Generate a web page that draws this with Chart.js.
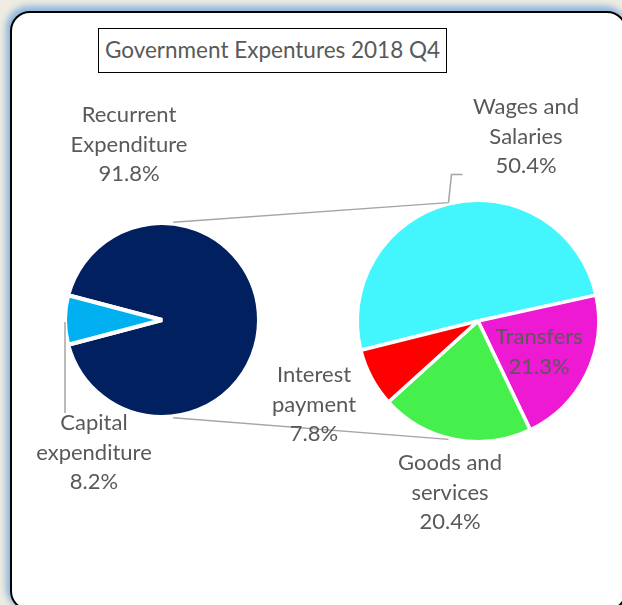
<!DOCTYPE html>
<html>
<head>
<meta charset="utf-8">
<script src="https://cdn.jsdelivr.net/npm/chart.js@4.4.1/dist/chart.umd.min.js"></script>
<style>
  html, body { margin: 0; padding: 0; width: 622px; height: 605px; overflow: hidden; background: #eeece1; }
  #frame {
    position: absolute; left: 10px; top: 11px; width: 617px; height: 600px;
    box-sizing: border-box; border: 2px solid #000; border-radius: 20px; background: #fff;
    box-shadow: -2px -3px 6px 2px rgba(125, 170, 220, 0.85);
  }
  #title {
    position: absolute; left: 98px; top: 28px; width: 349px; height: 45px; box-sizing: border-box;
    border: 1.5px solid #000; background: #fff; color: #595959; white-space: nowrap;
    font: 22.5px Lato, "Open Sans", sans-serif; text-align: center; line-height: 42px;
  }
  canvas { position: absolute; left: 0; top: 0; }
</style>
</head>
<body>
<div id="frame"></div>
<div id="title">Government Expentures 2018 Q4</div>
<canvas id="main" width="622" height="605"></canvas>
<canvas id="detail" width="622" height="605"></canvas>
<script>
// Main split: recurrent vs capital spending (percent of total)
const mainCategories = [['Recurrent', 'Expenditure'], ['Capital', 'expenditure']];
const mainValues = [91.8, 8.2];
const mainColors = ['#002060', '#00b0f0'];

// Breakdown of recurrent expenditure (percent)
const detailCategories = [['Wages and', 'Salaries'], ['Transfers'], ['Goods and', 'services'], ['Interest', 'payment']];
const detailValues = [50.4, 21.3, 20.4, 7.8];
const detailColors = ['#43f6fd', '#ee1ad3', '#46f04c', '#ff0000'];

const TEXT = '#595959';
const LINE = '#a5a5a5';
const FONT = '22px Lato, "Open Sans", sans-serif';
const LINE_GAP = 29.5;

// Where each label block's first line is centred
const mainLabelAt = [{ x: 129, y: 115 }, { x: 94, y: 423 }];
const detailLabelAt = [{ x: 526, y: 107 }, { x: 539, y: 337 }, { x: 450, y: 463 }, { x: 314, y: 375 }];

function sliceLabels(names, values, anchors) {
  return {
    id: 'sliceLabels',
    afterDatasetsDraw(chart) {
      const ctx = chart.ctx;
      ctx.save();
      ctx.font = FONT;
      ctx.fillStyle = TEXT;
      ctx.textAlign = 'center';
      ctx.textBaseline = 'middle';
      names.forEach((lines, i) => {
        const rows = [...lines, values[i].toFixed(1) + '%'];
        rows.forEach((t, j) => ctx.fillText(t, anchors[i].x, anchors[i].y + j * LINE_GAP));
      });
      ctx.restore();
    }
  };
}

const quiet = { legend: { display: false }, tooltip: { enabled: false } };

const mainChart = new Chart(document.getElementById('main'), {
  type: 'pie',
  data: {
    labels: mainCategories.map(l => l.join(' ')),
    datasets: [{ data: mainValues, backgroundColor: mainColors, borderColor: '#ffffff', borderWidth: 4 }]
  },
  options: {
    responsive: false, animation: false,
    // capital slice centred on the left side of the pie
    rotation: 270 + mainValues[1] * 1.8,
    radius: 97,
    layout: { padding: { left: 62, top: 220, right: 360, bottom: 185 } },
    plugins: quiet
  },
  plugins: [sliceLabels(mainCategories, mainValues, mainLabelAt)]
});

// Connector lines between the two pies plus the label leaders
const pieLinks = {
  id: 'pieLinks',
  afterDatasetsDraw(chart) {
    const a = mainChart.getDatasetMeta(0).data[0];
    const b = chart.getDatasetMeta(0).data[0];
    const ra = a.outerRadius - 2 + 3.5;
    const rb = b.outerRadius - 1.75 + 3;
    const at = (arc, r, deg) => ({ x: arc.x + r * Math.cos(deg * Math.PI / 180), y: arc.y + r * Math.sin(deg * Math.PI / 180) });
    const aTop = at(a, ra, -83.5), aBot = at(a, ra, 83.5);
    const bTop = at(b, rb, -104), bBot = at(b, rb, 104);
    const ctx = chart.ctx;
    ctx.save();
    ctx.strokeStyle = LINE;
    ctx.lineWidth = 1.5;
    ctx.beginPath();
    ctx.moveTo(aTop.x, aTop.y); ctx.lineTo(bTop.x, bTop.y);
    ctx.moveTo(aBot.x, aBot.y); ctx.lineTo(bBot.x, bBot.y);
    // leader to the wages label
    ctx.moveTo(bTop.x, bTop.y); ctx.lineTo(bTop.x + 3, bTop.y - 28); ctx.lineTo(bTop.x + 14, bTop.y - 28);
    // leader to the capital label
    const aLeft = at(a, a.outerRadius - 2 + 2, 180);
    ctx.moveTo(aLeft.x, aLeft.y + 2); ctx.lineTo(aLeft.x, aLeft.y + 93);
    ctx.stroke();
    ctx.restore();
  }
};

const detailChart = new Chart(document.getElementById('detail'), {
  type: 'pie',
  data: {
    labels: detailCategories.map(l => l.join(' ')),
    datasets: [{ data: detailValues, backgroundColor: detailColors, borderColor: '#ffffff', borderWidth: 3.5 }]
  },
  options: {
    responsive: false, animation: false,
    rotation: 256,
    radius: 120.75,
    layout: { padding: { left: 354, top: 197, right: 20, bottom: 160 } },
    plugins: quiet
  },
  plugins: [pieLinks, sliceLabels(detailCategories, detailValues, detailLabelAt)]
});
</script>
</body>
</html>
